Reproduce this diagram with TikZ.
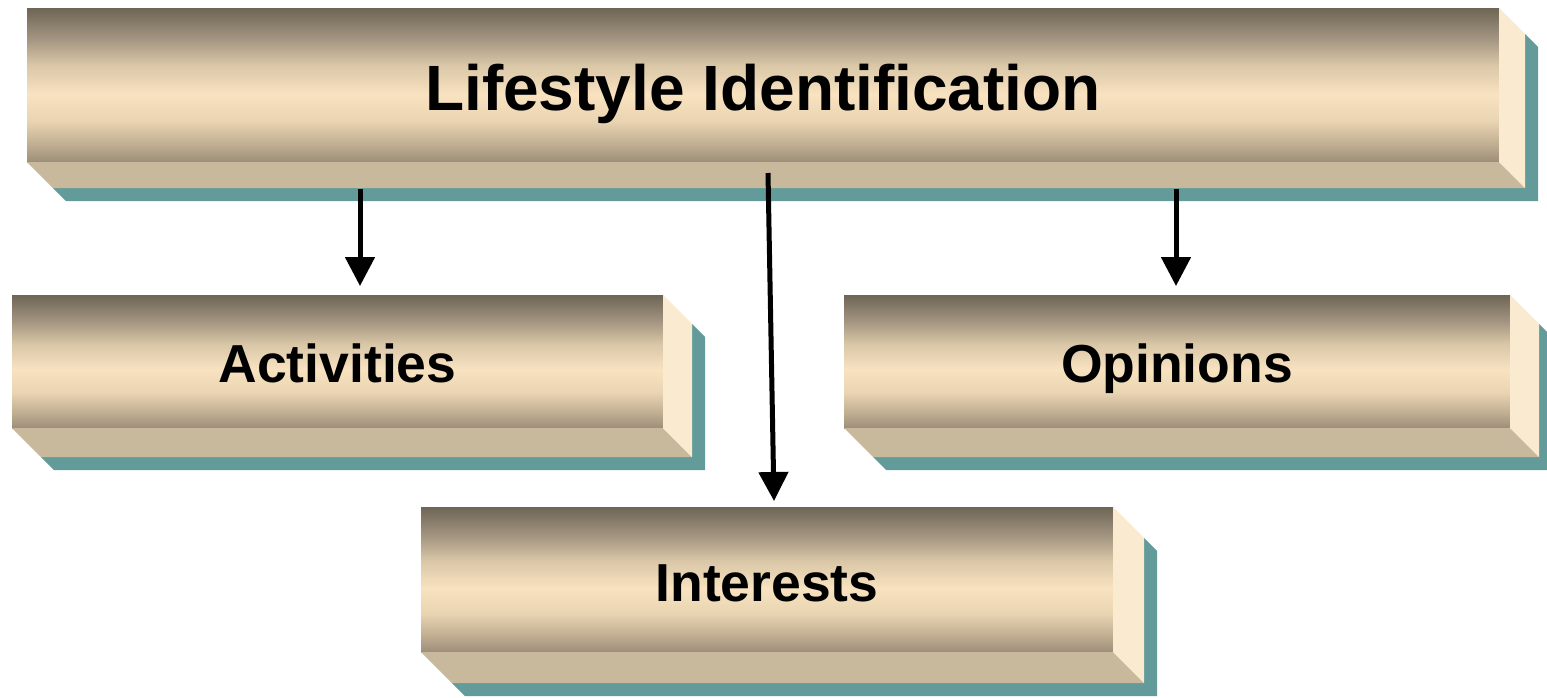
\documentclass[tikz,border=0pt]{standalone}
\usepackage{fontspec}
\setmainfont{Liberation Sans}
\usetikzlibrary{calc,arrows.meta}

% palette of the bevelled boxes
\definecolor{faceA}{HTML}{6E6555}
\definecolor{faceB}{HTML}{A39581}
\definecolor{faceC}{HTML}{D9C7A7}
\definecolor{faceD}{HTML}{F8E2C0}
\definecolor{faceE}{HTML}{EAD5B3}
\definecolor{faceF}{HTML}{BFAD91}
\definecolor{faceG}{HTML}{9D8E7A}
\definecolor{bottomcol}{HTML}{C8B89C}
\definecolor{sidecol}{HTML}{FAEAD0}
\definecolor{shadowcol}{HTML}{629B99}

% front face: dark top, light band a little below the middle, darker bottom
\pgfdeclareverticalshading{facegrad}{100bp}{%
  color(0bp)=(faceG); color(25bp)=(faceG); color(30.5bp)=(faceF);
  color(38.5bp)=(faceE); color(47bp)=(faceD); color(56.5bp)=(faceC);
  color(65bp)=(faceB); color(75bp)=(faceA); color(100bp)=(faceA)}

\tikzset{
  frontface/.style={shading=facegrad, inner sep=0pt, outer sep=0pt},
  bigtext/.style={font=\bfseries\fontsize{64}{77}\selectfont, text height=50pt, text depth=0pt},
  midtext/.style={font=\bfseries\fontsize{53.5}{64}\selectfont, text height=41pt, text depth=0pt},
  bottomface/.style={fill=bottomcol},
  sideface/.style={fill=sidecol},
  shadowface/.style={fill=shadowcol},
  arr/.style={line width=5pt, -{Triangle[width=29pt,length=29pt]}}
}

% bottom and right bevel faces plus the teal drop shadow of a front-face node
% #1 node name, #2 bevel depth, #3 shadow offset
\newcommand\bevelbox[3]{%
  \fill[shadowface] ($(#1.north east)+(#2,-#2)$) -- ++(#3,-#3)
    -- ($(#1.south east)+(#2+#3,-#2-#3)$) -- ($(#1.south west)+(#2+#3,-#2-#3)$)
    -- ($(#1.south west)+(#2,-#2)$) -- ($(#1.south east)+(#2,-#2)$) -- cycle;
  \fill[bottomface] (#1.south west) -- (#1.south east) -- ++(#2,-#2)
    -- ($(#1.south west)+(#2,-#2)$) -- cycle;
  \fill[sideface] (#1.north east) -- ++(#2,-#2)
    -- ($(#1.south east)+(#2,-#2)$) -- (#1.south east) -- cycle;
}

\begin{document}
\begin{tikzpicture}[x=1pt,y=1pt]
  \clip (0,0) rectangle (1547,-697);
  \fill[white] (0,0) rectangle (1547,-697);

  \node[frontface, bigtext, minimum width=1472pt, minimum height=154pt] (top) at (763,-85) {Lifestyle Identification};
  \bevelbox{top}{26}{13}

  \node[frontface, midtext, minimum width=651pt, minimum height=133pt] (act) at (337.5,-361.5) {Activities};
  \bevelbox{act}{29}{13}

  \node[frontface, midtext, minimum width=666pt, minimum height=133pt] (opi) at (1177,-361.5) {Opinions};
  \bevelbox{opi}{29}{13}

  \node[frontface, midtext, text height=44pt, minimum width=692pt, minimum height=145pt] (int) at (767,-579.5) {Interests};
  \bevelbox{int}{31}{13}

  \draw[arr] ($(top.south west)+(333,-27)$) -- ($(act.north west)+(348,9)$);
  \draw[arr] ($(top.south)+(5,-11)$) -- ($(int.north)+(7,6)$);
  \draw[arr] ($(top.south west)+(1149,-27)$) -- ($(opi.north)+(-1,9)$);
\end{tikzpicture}
\end{document}
